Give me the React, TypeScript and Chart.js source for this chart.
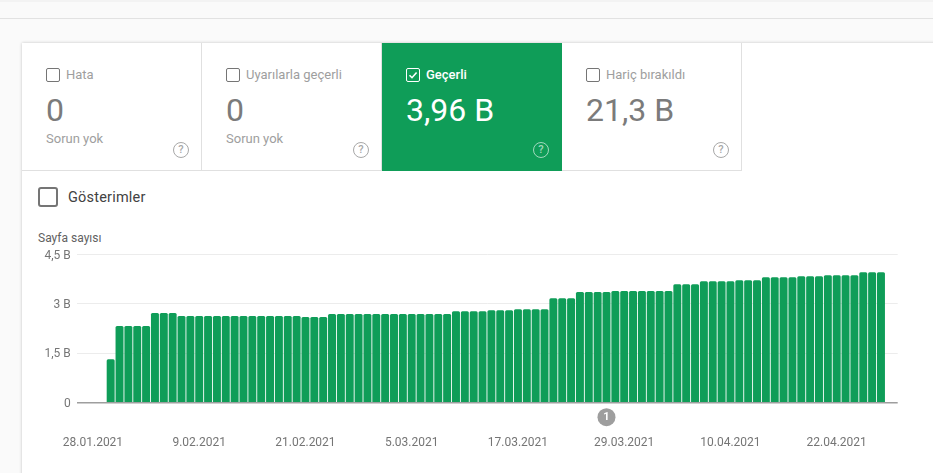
import React, { useEffect, useRef } from "react";
import { Chart, registerables } from "chart.js";

Chart.register(...registerables);

const GREEN = "#0f9d58";
const FONT = "Roboto, sans-serif";

// Day numbers counted from 28.01.2021
const barDays = [
  2, 3, 4, 5, 6, 7, 8, 9, 10, 11, 12, 13, 14, 15, 16, 17, 18, 19, 20, 21, 22, 23,
  24, 25, 26, 27, 28, 29, 30, 31, 32, 33, 34, 35, 36, 37, 38, 39, 40, 41, 42, 43, 44, 45,
  46, 47, 48, 49, 50, 51, 52, 53, 54, 55, 56, 57, 58, 59, 60, 61, 62, 63, 64, 65,
  66, 67, 68, 69, 70, 71, 72, 73, 74, 75, 76, 77, 78, 79, 80, 81, 82, 83, 84, 85, 86, 87, 88, 89,
];
const pageCounts = [
  1.32, 2.33, 2.33, 2.33, 2.33, 2.72, 2.72, 2.72,
  2.63, 2.63, 2.63, 2.63, 2.63, 2.63, 2.63, 2.63, 2.63, 2.63, 2.63, 2.63, 2.63, 2.63,
  2.6, 2.6, 2.6,
  2.69, 2.69, 2.69, 2.69, 2.69, 2.69, 2.69, 2.69, 2.69, 2.69, 2.69, 2.69, 2.69, 2.69,
  2.78, 2.78, 2.78, 2.78, 2.81, 2.81, 2.81, 2.84, 2.84, 2.84, 2.84,
  3.17, 3.17, 3.17, 3.36, 3.36, 3.36, 3.36,
  3.39, 3.39, 3.39, 3.39, 3.39, 3.39, 3.39,
  3.6, 3.6, 3.6, 3.69, 3.69, 3.69, 3.69, 3.72, 3.72, 3.72,
  3.81, 3.81, 3.81, 3.81, 3.84, 3.84, 3.84, 3.87, 3.87, 3.87, 3.87, 3.96, 3.96, 3.96,
];
const xTickDays = [0, 12, 24, 36, 48, 60, 72, 84];
const xTickLabels = ["28.01.2021", "9.02.2021", "21.02.2021", "5.03.2021", "17.03.2021", "29.03.2021", "10.04.2021", "22.04.2021"];
const yTickValues = [0, 1.5, 3, 4.5];
const yTickLabels = ["0", "1,5 B", "3 B", "4,5 B"];
const annotationDay = 58;
const annotationText = "1";

const tiles = [
  { label: "Hata", value: "0", note: "Sorun yok", left: 22, width: 180, active: false },
  { label: "Uyarılarla geçerli", value: "0", note: "Sorun yok", left: 202, width: 180, active: false },
  { label: "Geçerli", value: "3,96 B", note: "", left: 382, width: 180, active: true },
  { label: "Hariç bırakıldı", value: "21,3 B", note: "", left: 562, width: 180, active: false },
];

const abs = (o: React.CSSProperties): React.CSSProperties => ({ position: "absolute", whiteSpace: "nowrap", ...o });

function Tile({ t }: { t: (typeof tiles)[number] }) {
  const on = t.active;
  return (
    <div
      style={abs({
        left: t.left,
        top: 43,
        width: t.width,
        height: 128,
        background: on ? GREEN : "#fff",
        boxSizing: "border-box",
        borderRight: on ? "none" : "1px solid #e0e0e0",
        borderBottom: on ? "none" : "1px solid #e0e0e0",
      })}
    >
      <div
        style={abs({
          left: 24,
          top: 25,
          width: 14,
          height: 14,
          boxSizing: "border-box",
          border: `1px solid ${on ? "#fff" : "#757575"}`,
          borderRadius: 2,
        })}
      >
        {on && (
          <svg width="12" height="12" viewBox="0 0 12 12" style={{ display: "block" }}>
            <path d="M2.5 6.2 L5 8.7 L9.6 3.4" fill="none" stroke="#fff" strokeWidth="1.6" />
          </svg>
        )}
      </div>
      <div style={abs({ left: 44, top: 23, lineHeight: "17px", fontSize: 13, fontWeight: on ? 500 : 400, color: on ? "#fff" : "#9e9e9e" })}>{t.label}</div>
      <div style={abs({ left: 24, top: 48, lineHeight: "38px", fontSize: 32, fontWeight: 400, color: on ? "#fff" : "#7b7b7b" })}>{t.value}</div>
      {t.note && <div style={abs({ left: 24, top: 87, lineHeight: "17px", fontSize: 13, color: "#9e9e9e" })}>{t.note}</div>}
      <div
        style={abs({
          left: t.width - 29,
          top: 99,
          width: 16,
          height: 16,
          boxSizing: "border-box",
          border: `1.5px solid ${on ? "rgba(255,255,255,0.6)" : "#a8a8a8"}`,
          borderRadius: "50%",
          textAlign: "center",
          lineHeight: "13px",
          fontSize: 11,
          fontWeight: 500,
          color: on ? "rgba(255,255,255,0.6)" : "#a8a8a8",
        })}
      >
        ?
      </div>
    </div>
  );
}

export default function App() {
  const ref = useRef<HTMLCanvasElement>(null);

  useEffect(() => {
    document.body.style.margin = "0";
    const annotationPlugin = {
      id: "annotationBadge",
      afterDraw(chart: any) {
        const { ctx, scales } = chart;
        const x = scales.x.getPixelForValue(annotationDay);
        const y = scales.y.getPixelForValue(0) + 14.5;
        ctx.save();
        ctx.fillStyle = "#9e9e9e";
        ctx.beginPath();
        ctx.arc(x, y, 9, 0, Math.PI * 2);
        ctx.fill();
        ctx.fillStyle = "#fff";
        ctx.font = `700 11px ${FONT}`;
        ctx.textAlign = "center";
        ctx.textBaseline = "middle";
        ctx.fillText(annotationText, x, y + 0.5);
        ctx.restore();
      },
    };
    const chart = new Chart(ref.current!, {
      type: "bar",
      data: {
        datasets: [
          {
            data: barDays.map((d, i) => ({ x: d, y: pageCounts[i] })),
            backgroundColor: GREEN,
            barPercentage: 0.9,
            categoryPercentage: 1,
            borderRadius: { topLeft: 1.5, topRight: 1.5, bottomLeft: 0, bottomRight: 0 },
          },
        ],
      },
      plugins: [annotationPlugin],
      options: {
        animation: false,
        responsive: false,
        devicePixelRatio: 1,
        layout: { padding: { top: 24.5, right: 35.3, bottom: 0, left: 0 } },
        plugins: { legend: { display: false }, tooltip: { enabled: false } },
        scales: {
          x: {
            type: "linear",
            offset: false,
            min: -1.77,
            max: 90.89,
            afterFit(s: any) {
              s.height = 70.3;
            },
            afterBuildTicks(s: any) {
              s.ticks = xTickDays.map((value) => ({ value }));
            },
            grid: { display: false },
            border: { display: false },
            ticks: {
              autoSkip: false,
              maxRotation: 0,
              padding: 25,
              color: "#757575",
              font: { family: FONT, size: 12 },
              callback: (v: any) => xTickLabels[xTickDays.indexOf(Number(v))],
            },
          },
          y: {
            min: 0,
            max: 4.5,
            afterFit(s: any) {
              s.width = 77.3;
            },
            afterBuildTicks(s: any) {
              s.ticks = yTickValues.map((value) => ({ value }));
            },
            grid: {
              drawTicks: false,
              color: (c: any) => (c.tick.value === 0 ? "#9e9e9e" : "#ececec"),
              lineWidth: (c: any) => (c.tick.value === 0 ? 1.5 : 1),
            },
            border: { display: false },
            ticks: {
              padding: 6.6,
              labelOffset: 1,
              color: "#757575",
              font: { family: FONT, size: 12 },
              callback: (v: any) => yTickLabels[yTickValues.indexOf(Number(v))],
            },
          },
        },
      },
    } as any);
    return () => chart.destroy();
  }, []);

  return (
    <div style={abs({ left: 0, top: 0, width: 933, height: 473, overflow: "hidden", background: "#fafafa", fontFamily: FONT })}>
      <div style={abs({ left: 0, top: 0, width: 933, height: 2, background: "#f3f3f3" })} />
      <div style={abs({ left: 0, top: 18, width: 933, height: 1, background: "#e2e2e2" })} />
      <div style={abs({ left: 22, top: 43, width: 930, height: 450, background: "#fff", boxShadow: "0 0 3px rgba(0,0,0,0.22)" })} />
      {tiles.map((t) => (
        <Tile key={t.label} t={t} />
      ))}
      <div style={abs({ left: 38, top: 187, width: 20, height: 20, boxSizing: "border-box", border: "2px solid #757575", borderRadius: 3 })} />
      <div style={abs({ left: 68, top: 188, lineHeight: "20px", fontSize: 14.5, letterSpacing: 0.2, color: "#424242" })}>Gösterimler</div>
      <div style={abs({ left: 38, top: 231, lineHeight: "15px", fontSize: 12, color: "#616161" })}>Sayfa sayısı</div>
      <canvas ref={ref} width={933} height={243} style={abs({ left: 0, top: 230, width: 933, height: 243 })} />
    </div>
  );
}
